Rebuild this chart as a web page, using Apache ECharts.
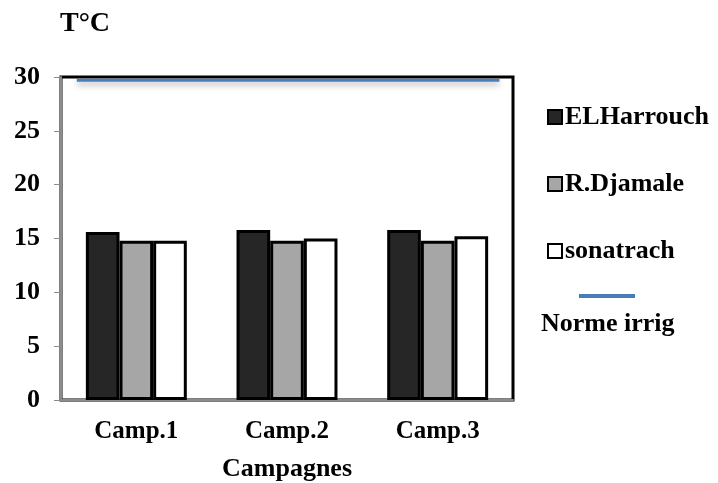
<!DOCTYPE html>
<html><head><meta charset="utf-8">
<script src="https://cdn.jsdelivr.net/npm/echarts@6/dist/echarts.min.js"></script>
<style>html,body{margin:0;padding:0;background:#fff}#c{width:718px;height:483px}</style>
</head><body><div id="c"></div>
<script>
const categories = ['Camp.1', 'Camp.2', 'Camp.3'];
const elHarrouch = [15.6, 15.8, 15.8];
const rDjamale = [14.8, 14.8, 14.8];
const sonatrach = [14.8, 15.0, 15.2];
const normeIrrig = 29.7;
const yTicks = [0, 5, 10, 15, 20, 25, 30];

const font = '"Liberation Serif", "Times New Roman", serif';
const chart = echarts.init(document.getElementById('c'));
const barStyle = c => ({ color: c, borderColor: '#000', borderWidth: 3 });
chart.setOption({
  animation: false,
  backgroundColor: '#fff',
  textStyle: { fontFamily: font },
  title: { text: 'T°C', left: 55, top: 5, textStyle: { fontFamily: font, fontWeight: 'bold', fontSize: 28, color: '#000' } },
  grid: { left: 61, right: 205, top: 77, bottom: 83, show: true, borderColor: '#000', borderWidth: 3,
    backgroundColor: 'transparent', containLabel: false, outerBoundsMode: 'none' },
  legend: [{
    orient: 'vertical', left: 542, top: 99, itemGap: 41, itemWidth: 14, itemHeight: 14,
    icon: 'rect',
    textStyle: { fontFamily: font, fontWeight: 'bold', fontSize: 26, color: '#000', padding: [0,0,0,-2] },
    data: ['ELHarrouch', 'R.Djamale', 'sonatrach']
  }, {
    left: 574, top: 289, itemWidth: 56, itemHeight: 4,
    formatter: () => '',
    textStyle: { fontSize: 1 },
    data: [{ name: 'Norme irrig', icon: 'rect', itemStyle: { color: '#4a7ebb', borderWidth: 0 } }]
  }],
  graphic: [{ type: 'text', left: 541, top: 311, style: { text: 'Norme irrig', font: 'bold 26px ' + font, fill: '#000' } }],
  xAxis: [{
    type: 'category', data: categories,
    axisLine: { lineStyle: { color: '#8c8c8c', width: 2 } },
    axisTick: { show: false },
    axisLabel: { fontFamily: font, fontWeight: 'bold', fontSize: 25, color: '#000', margin: 19 },
    name: 'Campagnes', nameLocation: 'middle', nameGap: 56,
    nameTextStyle: { fontFamily: font, fontWeight: 'bold', fontSize: 26, color: '#000' }
  }, {
    type: 'value', min: 0, max: 100, show: false
  }],
  yAxis: {
    type: 'value', min: 0, max: 30, interval: 5,
    axisLine: { show: true, lineStyle: { color: '#8c8c8c', width: 2 } },
    axisTick: { show: true, length: 7, lineStyle: { color: '#8c8c8c' } },
    splitLine: { show: false },
    axisLabel: { fontFamily: font, fontWeight: 'bold', fontSize: 26, color: '#000', margin: 21,
      formatter: v => yTicks.includes(v) ? String(v) : '' }
  },
  series: [
    { name: 'ELHarrouch', type: 'bar', data: elHarrouch, barGap: '0%', barCategoryGap: '33%', itemStyle: barStyle('#262626') },
    { name: 'R.Djamale', type: 'bar', data: rDjamale, itemStyle: barStyle('#a6a6a6') },
    { name: 'sonatrach', type: 'bar', data: sonatrach, itemStyle: barStyle('#ffffff') },
    { name: 'Norme irrig', type: 'line', xAxisIndex: 1, symbol: 'none',
      data: [[3.5, normeIrrig], [97, normeIrrig]],
      lineStyle: { color: '#4a7ebb', width: 3, shadowColor: 'rgba(0,0,0,0.35)', shadowBlur: 6, shadowOffsetY: 3 },
      itemStyle: { color: '#4a7ebb' } }
  ]
});
</script></body></html>
